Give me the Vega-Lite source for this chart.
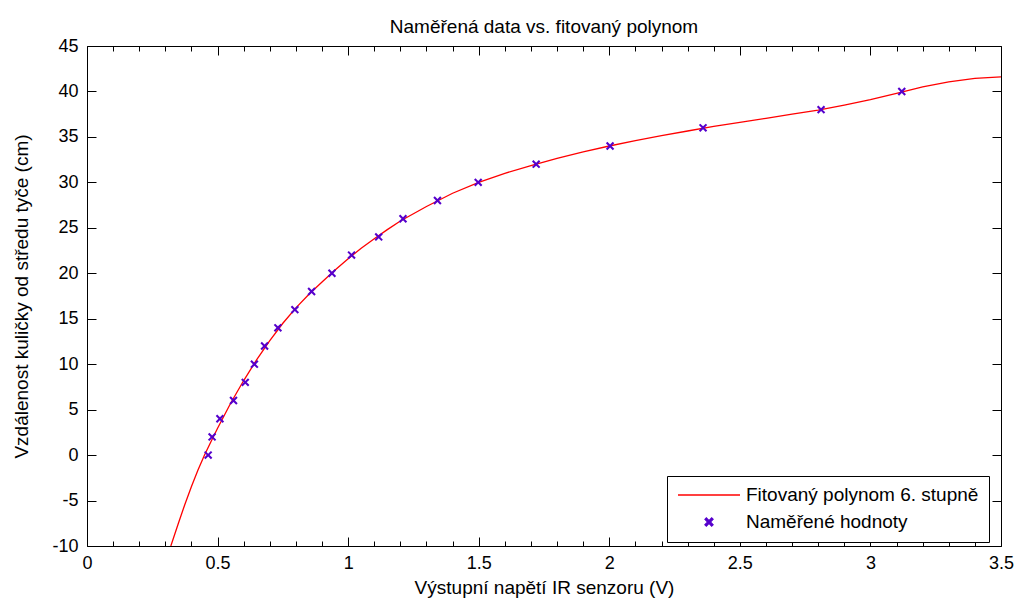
{
  "$schema": "https://vega.github.io/schema/vega-lite/v6.json",
  "width": 914,
  "height": 500,
  "autosize": "none",
  "padding": {"left": 87, "top": 46, "right": 14, "bottom": 53},
  "background": "white",
  "title": {
    "text": "Naměřená data vs. fitovaný polynom",
    "font": "Liberation Sans",
    "fontSize": 19,
    "fontWeight": "normal",
    "color": "black",
    "anchor": "middle",
    "offset": 0
  },
  "config": {
    "view": {"stroke": null},
    "axis": {
      "grid": false,
      "domainColor": "black",
      "domainWidth": 1,
      "tickColor": "black",
      "tickWidth": 1,
      "labelFont": "Liberation Sans",
      "labelFontSize": 18,
      "labelColor": "black",
      "titleFont": "Liberation Sans",
      "titleFontSize": 19,
      "titleFontWeight": "normal",
      "titleColor": "black"
    }
  },
  "datasets": {
    "curve": [
      {"x": 0.321, "y": -10, "series": "Fitovaný polynom 6. stupně"},
      {"x": 0.35, "y": -7.5, "series": "Fitovaný polynom 6. stupně"},
      {"x": 0.375, "y": -5.4, "series": "Fitovaný polynom 6. stupně"},
      {"x": 0.4, "y": -3.45, "series": "Fitovaný polynom 6. stupně"},
      {"x": 0.425, "y": -1.65, "series": "Fitovaný polynom 6. stupně"},
      {"x": 0.45, "y": 0.0, "series": "Fitovaný polynom 6. stupně"},
      {"x": 0.475, "y": 1.5, "series": "Fitovaný polynom 6. stupně"},
      {"x": 0.5, "y": 2.95, "series": "Fitovaný polynom 6. stupně"},
      {"x": 0.55, "y": 5.7, "series": "Fitovaný polynom 6. stupně"},
      {"x": 0.6, "y": 8.2, "series": "Fitovaný polynom 6. stupně"},
      {"x": 0.65, "y": 10.5, "series": "Fitovaný polynom 6. stupně"},
      {"x": 0.7, "y": 12.6, "series": "Fitovaný polynom 6. stupně"},
      {"x": 0.75, "y": 14.5, "series": "Fitovaný polynom 6. stupně"},
      {"x": 0.8, "y": 16.2, "series": "Fitovaný polynom 6. stupně"},
      {"x": 0.85, "y": 17.7, "series": "Fitovaný polynom 6. stupně"},
      {"x": 0.9, "y": 19.05, "series": "Fitovaný polynom 6. stupně"},
      {"x": 0.95, "y": 20.35, "series": "Fitovaný polynom 6. stupně"},
      {"x": 1.0, "y": 21.6, "series": "Fitovaný polynom 6. stupně"},
      {"x": 1.05, "y": 22.75, "series": "Fitovaný polynom 6. stupně"},
      {"x": 1.1, "y": 23.8, "series": "Fitovaný polynom 6. stupně"},
      {"x": 1.15, "y": 24.8, "series": "Fitovaný polynom 6. stupně"},
      {"x": 1.2, "y": 25.75, "series": "Fitovaný polynom 6. stupně"},
      {"x": 1.3, "y": 27.35, "series": "Fitovaný polynom 6. stupně"},
      {"x": 1.4, "y": 28.8, "series": "Fitovaný polynom 6. stupně"},
      {"x": 1.5, "y": 30.0, "series": "Fitovaný polynom 6. stupně"},
      {"x": 1.6, "y": 31.0, "series": "Fitovaný polynom 6. stupně"},
      {"x": 1.7, "y": 31.85, "series": "Fitovaný polynom 6. stupně"},
      {"x": 1.8, "y": 32.65, "series": "Fitovaný polynom 6. stupně"},
      {"x": 1.9, "y": 33.35, "series": "Fitovaný polynom 6. stupně"},
      {"x": 2.0, "y": 34.0, "series": "Fitovaný polynom 6. stupně"},
      {"x": 2.1, "y": 34.6, "series": "Fitovaný polynom 6. stupně"},
      {"x": 2.2, "y": 35.15, "series": "Fitovaný polynom 6. stupně"},
      {"x": 2.3, "y": 35.65, "series": "Fitovaný polynom 6. stupně"},
      {"x": 2.4, "y": 36.15, "series": "Fitovaný polynom 6. stupně"},
      {"x": 2.5, "y": 36.6, "series": "Fitovaný polynom 6. stupně"},
      {"x": 2.6, "y": 37.05, "series": "Fitovaný polynom 6. stupně"},
      {"x": 2.7, "y": 37.5, "series": "Fitovaný polynom 6. stupně"},
      {"x": 2.8, "y": 37.95, "series": "Fitovaný polynom 6. stupně"},
      {"x": 2.9, "y": 38.5, "series": "Fitovaný polynom 6. stupně"},
      {"x": 3.0, "y": 39.1, "series": "Fitovaný polynom 6. stupně"},
      {"x": 3.1, "y": 39.8, "series": "Fitovaný polynom 6. stupně"},
      {"x": 3.2, "y": 40.5, "series": "Fitovaný polynom 6. stupně"},
      {"x": 3.3, "y": 41.05, "series": "Fitovaný polynom 6. stupně"},
      {"x": 3.4, "y": 41.45, "series": "Fitovaný polynom 6. stupně"},
      {"x": 3.5, "y": 41.6, "series": "Fitovaný polynom 6. stupně"}
    ],
    "points": [
      {"x": 0.464, "y": 0, "series": "Naměřené hodnoty"},
      {"x": 0.479, "y": 2, "series": "Naměřené hodnoty"},
      {"x": 0.509, "y": 4, "series": "Naměřené hodnoty"},
      {"x": 0.561, "y": 6, "series": "Naměřené hodnoty"},
      {"x": 0.606, "y": 8, "series": "Naměřené hodnoty"},
      {"x": 0.641, "y": 10, "series": "Naměřené hodnoty"},
      {"x": 0.68, "y": 12, "series": "Naměřené hodnoty"},
      {"x": 0.731, "y": 14, "series": "Naměřené hodnoty"},
      {"x": 0.796, "y": 16, "series": "Naměřené hodnoty"},
      {"x": 0.86, "y": 18, "series": "Naměřené hodnoty"},
      {"x": 0.938, "y": 20, "series": "Naměřené hodnoty"},
      {"x": 1.013, "y": 22, "series": "Naměřené hodnoty"},
      {"x": 1.117, "y": 24, "series": "Naměřené hodnoty"},
      {"x": 1.21, "y": 26, "series": "Naměřené hodnoty"},
      {"x": 1.342, "y": 28, "series": "Naměřené hodnoty"},
      {"x": 1.498, "y": 30, "series": "Naměřené hodnoty"},
      {"x": 1.72, "y": 32, "series": "Naměřené hodnoty"},
      {"x": 2.003, "y": 34, "series": "Naměřené hodnoty"},
      {"x": 2.359, "y": 36, "series": "Naměřené hodnoty"},
      {"x": 2.811, "y": 38, "series": "Naměřené hodnoty"},
      {"x": 3.12, "y": 40, "series": "Naměřené hodnoty"}
    ]
  },
  "resolve": {"axis": {"x": "independent", "y": "independent"}},
  "layer": [
    {
      "data": {"name": "curve"},
      "mark": {"type": "line", "strokeWidth": 1.3, "clip": true},
      "encoding": {
        "x": {
          "field": "x", "type": "quantitative",
          "scale": {"domain": [0, 3.5], "nice": false, "zero": false},
          "axis": {
            "orient": "bottom",
            "title": "Výstupní napětí IR senzoru (V)",
            "values": [0, 0.5, 1, 1.5, 2, 2.5, 3, 3.5],
            "labelExpr": "'' + datum.value",
            "tickSize": -9,
            "labelPadding": 17,
            "labelFlush": false,
            "labelOverlap": false,
            "titlePadding": 6
          }
        },
        "y": {
          "field": "y", "type": "quantitative",
          "scale": {"domain": [-10, 45], "nice": false, "zero": false},
          "axis": {
            "orient": "left",
            "title": "Vzdálenost kuličky od středu tyče (cm)",
            "values": [-10, -5, 0, 5, 10, 15, 20, 25, 30, 35, 40, 45],
            "labelExpr": "'' + datum.value",
            "tickSize": -9,
            "labelPadding": 18,
            "labelFlush": false,
            "labelOverlap": false,
            "titlePadding": 20
          }
        },
        "color": {
          "field": "series", "type": "nominal",
          "scale": {"domain": ["Fitovaný polynom 6. stupně", "Naměřené hodnoty"], "range": ["#ff0000", "#5500cc"]},
          "legend": {
            "title": null,
            "orient": "none",
            "legendX": 580,
            "legendY": 430,
            "padding": 10,
            "strokeColor": "black",
            "fillColor": "white",
            "symbolSize": 3844,
            "symbolStrokeWidth": 1.3,
            "clipHeight": 18,
            "labelOffset": 5,
            "labelLimit": 400,
            "rowPadding": 8,
            "labelFont": "Liberation Sans",
            "labelFontSize": 19,
            "labelColor": "black",
            "encode": {
              "symbols": {
                "update": {
                  "shape": {"signal": "datum.index === 0 ? 'stroke' : 'M-0.13,-0.085L-0.085,-0.13L0,-0.045L0.085,-0.13L0.13,-0.085L0.045,0L0.13,0.085L0.085,0.13L0,0.045L-0.085,0.13L-0.13,0.085L-0.045,0Z'"},
                  "fill": {"signal": "datum.index === 0 ? 'transparent' : '#5500cc'"},
                  "stroke": {"signal": "datum.index === 0 ? '#ff0000' : 'transparent'"},
                  "opacity": {"value": 1}
                }
              }
            }
          }
        }
      }
    },
    {
      "data": {"name": "points"},
      "mark": {"type": "point", "filled": true, "size": 70, "opacity": 1, "shape": "M-1,-0.65L-0.65,-1L0,-0.35L0.65,-1L1,-0.65L0.35,0L1,0.65L0.65,1L0,0.35L-0.65,1L-1,0.65L-0.35,0Z"},
      "encoding": {
        "x": {
          "field": "x", "type": "quantitative",
          "axis": {
            "orient": "top",
            "title": null,
            "values": [0, 0.5, 1, 1.5, 2, 2.5, 3, 3.5],
            "labels": false,
            "tickSize": -9
          }
        },
        "y": {
          "field": "y", "type": "quantitative",
          "axis": {
            "orient": "right",
            "title": null,
            "values": [-10, -5, 0, 5, 10, 15, 20, 25, 30, 35, 40, 45],
            "labels": false,
            "tickSize": -9
          }
        },
        "color": {"field": "series", "type": "nominal"}
      }
    },
    {
      "data": {"name": "points"},
      "mark": {"type": "point", "opacity": 0},
      "encoding": {
        "x": {
          "field": "x", "type": "quantitative",
          "axis": {
            "orient": "bottom",
            "title": null,
            "domain": false,
            "labels": false,
            "values": [0.1, 0.2, 0.3, 0.4, 0.6, 0.7, 0.8, 0.9, 1.1, 1.2, 1.3, 1.4, 1.6, 1.7, 1.8, 1.9, 2.1, 2.2, 2.3, 2.4, 2.6, 2.7, 2.8, 2.9, 3.1, 3.2, 3.3, 3.4],
            "tickSize": -5
          }
        },
        "y": {"field": "y", "type": "quantitative", "axis": null}
      }
    },
    {
      "data": {"name": "points"},
      "mark": {"type": "point", "opacity": 0},
      "encoding": {
        "x": {
          "field": "x", "type": "quantitative",
          "axis": {
            "orient": "top",
            "title": null,
            "domain": false,
            "labels": false,
            "values": [0.1, 0.2, 0.3, 0.4, 0.6, 0.7, 0.8, 0.9, 1.1, 1.2, 1.3, 1.4, 1.6, 1.7, 1.8, 1.9, 2.1, 2.2, 2.3, 2.4, 2.6, 2.7, 2.8, 2.9, 3.1, 3.2, 3.3, 3.4],
            "tickSize": -5
          }
        },
        "y": {"field": "y", "type": "quantitative", "axis": null}
      }
    }
  ]
}
